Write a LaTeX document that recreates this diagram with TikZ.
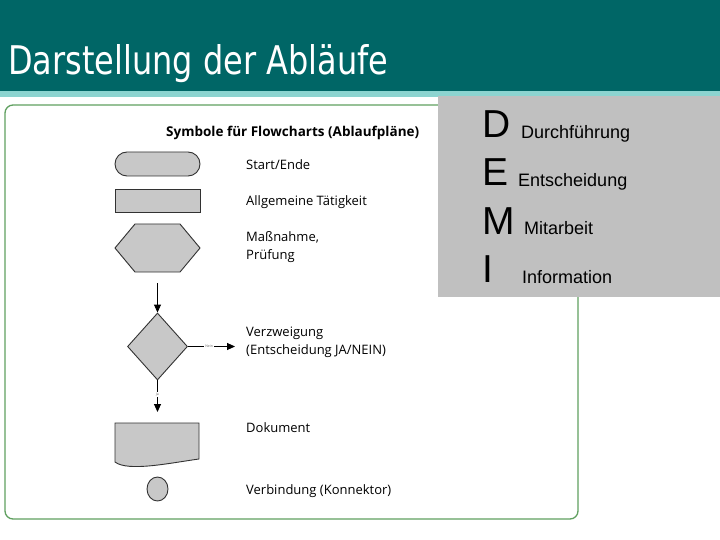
\documentclass[tikz,border=0pt]{standalone}
\usepackage{fontspec}
\setmainfont{Open Sans}
\newfontfamily\arialfont{Liberation Sans}
\newfontfamily\headfont{DejaVu Sans}
\usetikzlibrary{shapes.geometric,arrows.meta}
\definecolor{tealhead}{RGB}{0,102,102}
\definecolor{cyanstripe}{RGB}{140,212,208}
\definecolor{graybox}{RGB}{192,192,192}
\definecolor{panelgreen}{RGB}{96,160,96}
\definecolor{shapefill}{RGB}{200,200,200}
\definecolor{shapeline}{RGB}{50,50,50}
\begin{document}
\begin{tikzpicture}[x=1pt,y=-1pt,
 sym/.style={draw=shapeline, fill=shapefill, line width=0.9pt, inner sep=0pt},
 lbl/.style={anchor=west, font=\fontsize{13}{18}\selectfont, inner sep=0pt, align=left},
 arr/.style={-{Triangle[length=8pt,width=7pt]}, line width=0.9pt},
 bigletter/.style={anchor=base west, inner sep=0pt, font=\arialfont\fontsize{39}{39}\selectfont},
 word/.style={anchor=base west, inner sep=0pt, font=\arialfont\fontsize{18}{18}\selectfont},
 tinylbl/.style={font=\fontsize{3.5}{4}\selectfont, fill=white, inner sep=1pt, text=black!60}]
\useasboundingbox (0,0) rectangle (720,540);
\fill[white] (0,0) rectangle (720,540);
% header
\fill[tealhead] (0,0) rectangle (720,91);
\fill[cyanstripe] (0,91) rectangle (720,97);
\node[anchor=base west, inner sep=0pt, text=white] (title) at (8,75)
  {\resizebox{380pt}{30pt}{\headfont Darstellung der Abläufe}};
% scanned panel
\draw[panelgreen, line width=1.3pt, rounded corners=8pt] (5,105) rectangle (578,519);
\node[anchor=base west, inner sep=0pt, font=\bfseries\fontsize{13.5}{16}\selectfont] (ptitle) at (166,137)
  {Symbole für Flowcharts (Ablaufpläne)};
% symbols
\node[sym, rounded corners=12pt, minimum width=85pt, minimum height=24pt] (start) at (157.5,164) {};
\node[sym, minimum width=85pt, minimum height=23pt] (task) at (157.5,200.5) {};
\draw[sym] (115,248) -- (135,224) -- (180,224) -- (200,248) -- (180,272) -- (135,272) -- cycle;
\coordinate (hexbot) at (157.5,272);
\coordinate (a1) at (157.5,283);
\node[sym, diamond, minimum width=60pt, minimum height=67pt] (dia) at (157.5,346.5) {};
\coordinate (nein) at (235,346.5);
\coordinate (ja) at (157.5,412);
\draw[arr] (a1) -- (dia.north);
\draw[arr] (dia.east) -- node[tinylbl, pos=0.45] {Nein} (nein);
\draw[arr] (dia.south) -- node[tinylbl, pos=0.45] {Ja} (ja);
\draw[sym] (115,423) -- (199,423) -- (199,459)
  .. controls (170,463) and (128,472) .. (115,462) -- cycle;
\coordinate (doc) at (157,442);
\node[sym, ellipse, minimum width=21pt, minimum height=24pt] (conn) at (157.5,489) {};
% labels
\node[lbl] (l1) at (246,165) {Start/Ende};
\node[lbl] (l2) at (246,202) {Allgemeine Tätigkeit};
\node[lbl] (l3) at (246,247) {Maßnahme,\\Prüfung};
\node[lbl] (l4) at (246,342.5) {Verzweigung\\(Entscheidung JA/NEIN)};
\node[lbl] (l5) at (246,428) {Dokument};
\node[lbl] (l6) at (246,491) {Verbindung (Konnektor)};
% DEMI box
\fill[graybox] (438,96) rectangle (720,297);
\node[bigletter] (D) at (482,138) {D};
\node[bigletter] (E) at (482,186) {E};
\node[bigletter] (M) at (482,234) {M};
\node[bigletter] (I) at (482,282) {I};
\node[word] (wD) at (521,139) {Durchführung};
\node[word] (wE) at (518,187) {Entscheidung};
\node[word] (wM) at (524,235) {Mitarbeit};
\node[word] (wI) at (522,283) {Information};
\end{tikzpicture}
\end{document}
